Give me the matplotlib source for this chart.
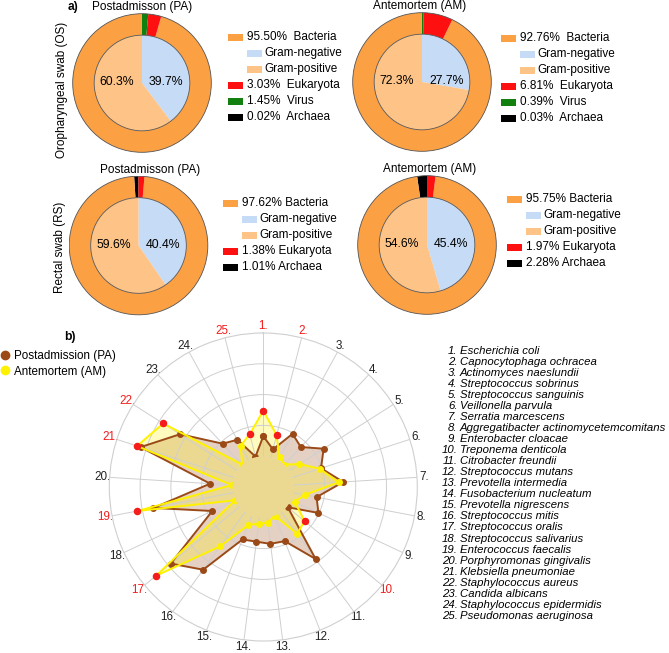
import numpy as np
import matplotlib
matplotlib.use("Agg")
import matplotlib.pyplot as plt
from matplotlib.patches import Circle, Rectangle
from matplotlib.lines import Line2D

plt.rcParams['font.family'] = ['Liberation Sans', 'DejaVu Sans']

W, H = 669, 653
fs = 8.2

# a) domain composition per swab (order = counterclockwise from 12 o'clock)
groups = ['Archaea', 'Bacteria', 'Eukaryota', 'Virus']
os_pa = [0.02, 95.50, 3.03, 1.45]
os_am = [0.03, 92.76, 6.81, 0.39]
rs_pa = [1.01, 97.62, 1.38]
rs_am = [2.28, 95.75, 1.97]

# share of bacteria that is Gram-negative / Gram-positive
gram_labels = ['Gram-negative', 'Gram-positive']
os_pa_gram = [39.7, 60.3]
os_am_gram = [27.7, 72.3]
rs_pa_gram = [40.4, 59.6]
rs_am_gram = [45.4, 54.6]

# b) radar
species = ['Escherichia coli', 'Capnocytophaga ochracea', 'Actinomyces naeslundii',
           'Streptococcus sobrinus', 'Streptococcus sanguinis', 'Veillonella parvula',
           'Serratia marcescens', 'Aggregatibacter actinomycetemcomitans',
           'Enterobacter cloacae', 'Treponema denticola', 'Citrobacter freundii',
           'Streptococcus mutans', 'Prevotella intermedia', 'Fusobacterium nucleatum',
           'Prevotella nigrescens', 'Streptococcus mitis', 'Streptococcus oralis',
           'Streptococcus salivarius', 'Enterococcus faecalis', 'Porphyromonas gingivalis',
           'Klebsiella pneumoniae', 'Staphylococcus aureus', 'Candida albicans',
           'Staphylococcus epidermidis', 'Pseudomonas aeruginosa']
pa_score = [0.65, 0.26, 0.97, 0.78, 1.32, 0.97, 1.60, 0.76, 0.98, 0.03, 1.89, 0.89, 0.86,
            0.79, 0.83, 2.32, 2.90, 0.83, 2.63, 0.73, 3.19, 2.20, 0.93, 0.75, 0.02]
am_score = [1.48, 0.74, 0.10, 0.00, 0.39, 0.92, 1.46, 0.37, 0.13, 0.74, 0.87, 0.01, 0.17,
            0.20, 0.33, 1.38, 3.52, 0.01, 3.16, 0.02, 3.31, 2.85, 0.00, 0.53, 0.77]

group_colors = {'Bacteria': '#FCA044', 'Eukaryota': '#FF1010', 'Virus': '#11800F',
                'Archaea': '#000000', 'Gram-negative': '#C6DBF5', 'Gram-positive': '#FDC387'}
BROWN = '#9B4A17'
YELLOW = '#FFF200'
RED = '#F41C1C'


def px_box(x, y, w, h):
    return [x / W, 1 - (y + h) / H, w / W, h / H]


fig = plt.figure(figsize=(W / 100, H / 100), dpi=100)

ov = fig.add_axes([0, 0, 1, 1])
ov.set_xlim(0, W)
ov.set_ylim(H, 0)
ov.set_axis_off()
ov.patch.set_visible(False)


def donut(cx, cy, vals, gram, leg_x, leg_y, sep):
    ax = fig.add_axes(px_box(cx - 70, cy - 70, 140, 140))
    names = groups[:len(vals)]
    ax.pie(vals, colors=[group_colors[g] for g in names], radius=1, startangle=90,
           counterclock=True, wedgeprops=dict(width=0.31, linewidth=0))
    ax.pie(gram, colors=[group_colors[g] for g in gram_labels], radius=0.69, startangle=90,
           counterclock=False, wedgeprops=dict(linewidth=0))
    ax.add_patch(Circle((0, 0), 1, fill=False, ec='#555555', lw=0.6))
    ax.add_patch(Circle((0, 0), 0.69, fill=False, ec='#555555', lw=0.6))
    ax.text(-0.36, 0.01, f'{gram[1]:.1f}%', ha='center', va='center', fontsize=fs + 0.6)
    ax.text(0.35, 0.01, f'{gram[0]:.1f}%', ha='center', va='center', fontsize=fs + 0.6)
    ax.set_xlim(-1.01, 1.01)
    ax.set_ylim(-1.01, 1.01)

    # hand-made legend (Gram rows are indented under Bacteria)
    order = ['Bacteria', 'Gram-negative', 'Gram-positive', 'Eukaryota', 'Virus', 'Archaea']
    row = 0
    for name in order:
        y = leg_y + row * 16
        if name in gram_labels:
            bx, tx, txt = leg_x + 19, leg_x + 36, name
        elif name in names:
            bx, tx = leg_x, leg_x + 19
            txt = f'{vals[names.index(name)]:.2f}%{sep}{name}'
        else:
            continue
        ov.add_patch(Rectangle((bx, y - 3.5), 15, 7, color=group_colors[name], lw=0))
        ov.text(tx, y, txt, ha='left', va='center', fontsize=fs + 0.3)
        row += 1


donut(142, 83, os_pa, os_pa_gram, 228, 37, '  ')
donut(422, 82, os_am, os_am_gram, 501, 38, '  ')
donut(138.5, 245.5, rs_pa, rs_pa_gram, 223, 203, ' ')
donut(427, 245, rs_am, rs_am_gram, 507, 199, ' ')

ov.text(142, 7, 'Postadmisson (PA)', ha='center', va='center', fontsize=fs + 0.3)
ov.text(420, 6, 'Antemortem (AM)', ha='center', va='center', fontsize=fs + 0.3)
ov.text(150, 170, 'Postadmisson (PA)', ha='center', va='center', fontsize=fs + 0.3)
ov.text(430, 169, 'Antemortem (AM)', ha='center', va='center', fontsize=fs + 0.3)
ov.text(62, 90, 'Oropharyngeal swab (OS)', rotation=90, ha='center', va='center', fontsize=fs + 0.3)
ov.text(60, 247, 'Rectal swab (RS)', rotation=90, ha='center', va='center', fontsize=fs + 0.3)
ov.text(73, 7, 'a)', ha='center', va='center', fontsize=fs + 0.5, fontweight='bold')
ov.text(70, 337, 'b)', ha='center', va='center', fontsize=fs + 0.5, fontweight='bold')

# b) radar chart
pa = np.array(pa_score)
am = np.array(am_score)
n = len(species)
theta = np.arange(n) * 2 * np.pi / n
tc = np.append(theta, theta[0])
pa_c = np.append(pa, pa[0])
am_c = np.append(am, am[0])
higher = am > pa

rax = fig.add_axes(px_box(263.3 - 154, 487 - 154, 308, 308), projection='polar')
rax.set_theta_zero_location('N')
rax.set_theta_direction(-1)
rax.set_rorigin(-1)
rax.set_ylim(0, 4)
rax.set_yticks([1, 2, 3])
rax.set_yticklabels([])
rax.set_xticks(theta, labels=[f'{i}.' for i in range(1, n + 1)])
for lbl, h in zip(rax.get_xticklabels(), higher):
    lbl.set_color(RED if h else '#222222')
rax.tick_params(axis='x', pad=-2, length=0, labelsize=fs + 0.2)
rax.grid(color='#cfcfcf', lw=0.7)
rax.spines['polar'].set_color('#cfcfcf')
rax.spines['polar'].set_linewidth(0.8)
rax.spines['inner'].set_linewidth(0)

rax.fill(tc, pa_c, color=BROWN, alpha=0.25, lw=0)
rax.fill(tc, am_c, color=YELLOW, alpha=0.25, lw=0)
rax.plot(tc, pa_c, color=BROWN, lw=1.4, marker='o', ms=4)
rax.plot(tc, am_c, color=YELLOW, lw=1.4, marker='o', ms=4)
rax.plot(theta[higher], am[higher], 'o', color=RED, ms=4.4, ls='none')
# centre hole: both fills overlap there
for col in (BROWN, YELLOW):
    rax.add_artist(Circle((0.5, 0.5), 0.1, transform=rax.transAxes, facecolor=col,
                          edgecolor='none', alpha=0.25, lw=0, clip_on=False, zorder=0.5))

fig.legend(handles=[Line2D([], [], marker='o', ls='none', color=BROWN, ms=6, label='Postadmission (PA)'),
                    Line2D([], [], marker='o', ls='none', color=YELLOW, ms=6, label='Antemortem (AM)')],
           loc='upper left', bbox_to_anchor=(0, 1 - 350 / H), frameon=False, fontsize=fs + 0.2,
           handlelength=0.8, handletextpad=0.4, borderpad=0, borderaxespad=0, labelspacing=0.3)

for i, name in enumerate(species):
    y = 350.7 + i * 11.05
    ov.text(457.5, y, f'{i + 1}.', ha='right', va='center', fontsize=fs, style='italic')
    ov.text(460, y, name, ha='left', va='center', fontsize=fs, style='italic')

fig.savefig('out.png', dpi=100)
